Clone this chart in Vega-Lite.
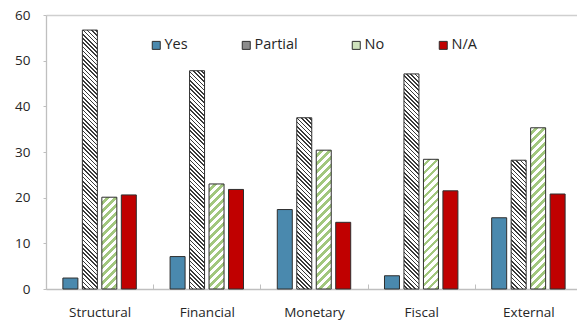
{
  "$schema": "https://vega.github.io/schema/vega-lite/v6.json",
  "width": 536,
  "height": 274,
  "autosize": {"type": "none"},
  "padding": {"left": 46, "top": 15, "right": 0, "bottom": 33},
  "background": "white",
  "config": {
    "view": {"stroke": null},
    "font": "Open Sans"
  },
  "params": [
    {"name": "pStops", "value": [
      {"offset":0,"color":"#fff"},{"offset":0.009,"color":"#fff"},{"offset":0.009,"color":"#3a3a3a"},{"offset":0.015,"color":"#3a3a3a"},
      {"offset":0.015,"color":"#fff"},{"offset":0.024,"color":"#fff"},{"offset":0.024,"color":"#3a3a3a"},{"offset":0.03,"color":"#3a3a3a"},
      {"offset":0.03,"color":"#fff"},{"offset":0.039,"color":"#fff"},{"offset":0.039,"color":"#3a3a3a"},{"offset":0.045,"color":"#3a3a3a"},
      {"offset":0.045,"color":"#fff"},{"offset":0.054,"color":"#fff"},{"offset":0.054,"color":"#3a3a3a"},{"offset":0.06,"color":"#3a3a3a"},
      {"offset":0.06,"color":"#fff"},{"offset":0.069,"color":"#fff"},{"offset":0.069,"color":"#3a3a3a"},{"offset":0.075,"color":"#3a3a3a"},
      {"offset":0.075,"color":"#fff"},{"offset":0.084,"color":"#fff"},{"offset":0.084,"color":"#3a3a3a"},{"offset":0.09,"color":"#3a3a3a"},
      {"offset":0.09,"color":"#fff"},{"offset":0.099,"color":"#fff"},{"offset":0.099,"color":"#3a3a3a"},{"offset":0.105,"color":"#3a3a3a"},
      {"offset":0.105,"color":"#fff"},{"offset":0.114,"color":"#fff"},{"offset":0.114,"color":"#3a3a3a"},{"offset":0.12,"color":"#3a3a3a"},
      {"offset":0.12,"color":"#fff"},{"offset":0.129,"color":"#fff"},{"offset":0.129,"color":"#3a3a3a"},{"offset":0.135,"color":"#3a3a3a"},
      {"offset":0.135,"color":"#fff"},{"offset":0.144,"color":"#fff"},{"offset":0.144,"color":"#3a3a3a"},{"offset":0.15,"color":"#3a3a3a"},
      {"offset":0.15,"color":"#fff"},{"offset":0.159,"color":"#fff"},{"offset":0.159,"color":"#3a3a3a"},{"offset":0.165,"color":"#3a3a3a"},
      {"offset":0.165,"color":"#fff"},{"offset":0.174,"color":"#fff"},{"offset":0.174,"color":"#3a3a3a"},{"offset":0.18,"color":"#3a3a3a"},
      {"offset":0.18,"color":"#fff"},{"offset":0.189,"color":"#fff"},{"offset":0.189,"color":"#3a3a3a"},{"offset":0.195,"color":"#3a3a3a"},
      {"offset":0.195,"color":"#fff"},{"offset":0.204,"color":"#fff"},{"offset":0.204,"color":"#3a3a3a"},{"offset":0.21,"color":"#3a3a3a"},
      {"offset":0.21,"color":"#fff"},{"offset":0.219,"color":"#fff"},{"offset":0.219,"color":"#3a3a3a"},{"offset":0.225,"color":"#3a3a3a"},
      {"offset":0.225,"color":"#fff"},{"offset":0.234,"color":"#fff"},{"offset":0.234,"color":"#3a3a3a"},{"offset":0.24,"color":"#3a3a3a"},
      {"offset":0.24,"color":"#fff"},{"offset":0.249,"color":"#fff"},{"offset":0.249,"color":"#3a3a3a"},{"offset":0.255,"color":"#3a3a3a"},
      {"offset":0.255,"color":"#fff"},{"offset":0.264,"color":"#fff"},{"offset":0.264,"color":"#3a3a3a"},{"offset":0.27,"color":"#3a3a3a"},
      {"offset":0.27,"color":"#fff"},{"offset":0.279,"color":"#fff"},{"offset":0.279,"color":"#3a3a3a"},{"offset":0.285,"color":"#3a3a3a"},
      {"offset":0.285,"color":"#fff"},{"offset":0.294,"color":"#fff"},{"offset":0.294,"color":"#3a3a3a"},{"offset":0.3,"color":"#3a3a3a"},
      {"offset":0.3,"color":"#fff"},{"offset":0.309,"color":"#fff"},{"offset":0.309,"color":"#3a3a3a"},{"offset":0.315,"color":"#3a3a3a"},
      {"offset":0.315,"color":"#fff"},{"offset":0.324,"color":"#fff"},{"offset":0.324,"color":"#3a3a3a"},{"offset":0.33,"color":"#3a3a3a"},
      {"offset":0.33,"color":"#fff"},{"offset":0.339,"color":"#fff"},{"offset":0.339,"color":"#3a3a3a"},{"offset":0.345,"color":"#3a3a3a"},
      {"offset":0.345,"color":"#fff"},{"offset":0.354,"color":"#fff"},{"offset":0.354,"color":"#3a3a3a"},{"offset":0.36,"color":"#3a3a3a"},
      {"offset":0.36,"color":"#fff"},{"offset":0.369,"color":"#fff"},{"offset":0.369,"color":"#3a3a3a"},{"offset":0.375,"color":"#3a3a3a"},
      {"offset":0.375,"color":"#fff"},{"offset":0.384,"color":"#fff"},{"offset":0.384,"color":"#3a3a3a"},{"offset":0.39,"color":"#3a3a3a"},
      {"offset":0.39,"color":"#fff"},{"offset":0.399,"color":"#fff"},{"offset":0.399,"color":"#3a3a3a"},{"offset":0.405,"color":"#3a3a3a"},
      {"offset":0.405,"color":"#fff"},{"offset":0.414,"color":"#fff"},{"offset":0.414,"color":"#3a3a3a"},{"offset":0.42,"color":"#3a3a3a"},
      {"offset":0.42,"color":"#fff"},{"offset":0.429,"color":"#fff"},{"offset":0.429,"color":"#3a3a3a"},{"offset":0.435,"color":"#3a3a3a"},
      {"offset":0.435,"color":"#fff"},{"offset":0.444,"color":"#fff"},{"offset":0.444,"color":"#3a3a3a"},{"offset":0.45,"color":"#3a3a3a"},
      {"offset":0.45,"color":"#fff"},{"offset":0.459,"color":"#fff"},{"offset":0.459,"color":"#3a3a3a"},{"offset":0.465,"color":"#3a3a3a"},
      {"offset":0.465,"color":"#fff"},{"offset":0.474,"color":"#fff"},{"offset":0.474,"color":"#3a3a3a"},{"offset":0.48,"color":"#3a3a3a"},
      {"offset":0.48,"color":"#fff"},{"offset":0.489,"color":"#fff"},{"offset":0.489,"color":"#3a3a3a"},{"offset":0.495,"color":"#3a3a3a"},
      {"offset":0.495,"color":"#fff"},{"offset":0.504,"color":"#fff"},{"offset":0.504,"color":"#3a3a3a"},{"offset":0.51,"color":"#3a3a3a"},
      {"offset":0.51,"color":"#fff"},{"offset":0.519,"color":"#fff"},{"offset":0.519,"color":"#3a3a3a"},{"offset":0.525,"color":"#3a3a3a"},
      {"offset":0.525,"color":"#fff"},{"offset":0.534,"color":"#fff"},{"offset":0.534,"color":"#3a3a3a"},{"offset":0.54,"color":"#3a3a3a"},
      {"offset":0.54,"color":"#fff"},{"offset":0.549,"color":"#fff"},{"offset":0.549,"color":"#3a3a3a"},{"offset":0.555,"color":"#3a3a3a"},
      {"offset":0.555,"color":"#fff"},{"offset":0.564,"color":"#fff"},{"offset":0.564,"color":"#3a3a3a"},{"offset":0.57,"color":"#3a3a3a"},
      {"offset":0.57,"color":"#fff"},{"offset":0.579,"color":"#fff"},{"offset":0.579,"color":"#3a3a3a"},{"offset":0.585,"color":"#3a3a3a"},
      {"offset":0.585,"color":"#fff"},{"offset":0.594,"color":"#fff"},{"offset":0.594,"color":"#3a3a3a"},{"offset":0.6,"color":"#3a3a3a"},
      {"offset":0.6,"color":"#fff"},{"offset":0.609,"color":"#fff"},{"offset":0.609,"color":"#3a3a3a"},{"offset":0.615,"color":"#3a3a3a"},
      {"offset":0.615,"color":"#fff"},{"offset":0.624,"color":"#fff"},{"offset":0.624,"color":"#3a3a3a"},{"offset":0.63,"color":"#3a3a3a"},
      {"offset":0.63,"color":"#fff"},{"offset":0.639,"color":"#fff"},{"offset":0.639,"color":"#3a3a3a"},{"offset":0.645,"color":"#3a3a3a"},
      {"offset":0.645,"color":"#fff"},{"offset":0.654,"color":"#fff"},{"offset":0.654,"color":"#3a3a3a"},{"offset":0.66,"color":"#3a3a3a"},
      {"offset":0.66,"color":"#fff"},{"offset":0.669,"color":"#fff"},{"offset":0.669,"color":"#3a3a3a"},{"offset":0.675,"color":"#3a3a3a"},
      {"offset":0.675,"color":"#fff"},{"offset":0.684,"color":"#fff"},{"offset":0.684,"color":"#3a3a3a"},{"offset":0.69,"color":"#3a3a3a"},
      {"offset":0.69,"color":"#fff"},{"offset":0.699,"color":"#fff"},{"offset":0.699,"color":"#3a3a3a"},{"offset":0.705,"color":"#3a3a3a"},
      {"offset":0.705,"color":"#fff"},{"offset":0.714,"color":"#fff"},{"offset":0.714,"color":"#3a3a3a"},{"offset":0.72,"color":"#3a3a3a"},
      {"offset":0.72,"color":"#fff"},{"offset":0.729,"color":"#fff"},{"offset":0.729,"color":"#3a3a3a"},{"offset":0.735,"color":"#3a3a3a"},
      {"offset":0.735,"color":"#fff"},{"offset":0.744,"color":"#fff"},{"offset":0.744,"color":"#3a3a3a"},{"offset":0.75,"color":"#3a3a3a"},
      {"offset":0.75,"color":"#fff"},{"offset":0.759,"color":"#fff"},{"offset":0.759,"color":"#3a3a3a"},{"offset":0.765,"color":"#3a3a3a"},
      {"offset":0.765,"color":"#fff"},{"offset":0.774,"color":"#fff"},{"offset":0.774,"color":"#3a3a3a"},{"offset":0.78,"color":"#3a3a3a"},
      {"offset":0.78,"color":"#fff"},{"offset":0.789,"color":"#fff"},{"offset":0.789,"color":"#3a3a3a"},{"offset":0.795,"color":"#3a3a3a"},
      {"offset":0.795,"color":"#fff"},{"offset":0.804,"color":"#fff"},{"offset":0.804,"color":"#3a3a3a"},{"offset":0.81,"color":"#3a3a3a"},
      {"offset":0.81,"color":"#fff"},{"offset":0.819,"color":"#fff"},{"offset":0.819,"color":"#3a3a3a"},{"offset":0.825,"color":"#3a3a3a"},
      {"offset":0.825,"color":"#fff"},{"offset":0.834,"color":"#fff"},{"offset":0.834,"color":"#3a3a3a"},{"offset":0.84,"color":"#3a3a3a"},
      {"offset":0.84,"color":"#fff"},{"offset":0.849,"color":"#fff"},{"offset":0.849,"color":"#3a3a3a"},{"offset":0.855,"color":"#3a3a3a"},
      {"offset":0.855,"color":"#fff"},{"offset":0.864,"color":"#fff"},{"offset":0.864,"color":"#3a3a3a"},{"offset":0.87,"color":"#3a3a3a"},
      {"offset":0.87,"color":"#fff"},{"offset":0.879,"color":"#fff"},{"offset":0.879,"color":"#3a3a3a"},{"offset":0.885,"color":"#3a3a3a"},
      {"offset":0.885,"color":"#fff"},{"offset":0.894,"color":"#fff"},{"offset":0.894,"color":"#3a3a3a"},{"offset":0.9,"color":"#3a3a3a"},
      {"offset":0.9,"color":"#fff"},{"offset":0.909,"color":"#fff"},{"offset":0.909,"color":"#3a3a3a"},{"offset":0.915,"color":"#3a3a3a"},
      {"offset":0.915,"color":"#fff"},{"offset":0.924,"color":"#fff"},{"offset":0.924,"color":"#3a3a3a"},{"offset":0.93,"color":"#3a3a3a"},
      {"offset":0.93,"color":"#fff"},{"offset":0.939,"color":"#fff"},{"offset":0.939,"color":"#3a3a3a"},{"offset":0.945,"color":"#3a3a3a"},
      {"offset":0.945,"color":"#fff"},{"offset":0.954,"color":"#fff"},{"offset":0.954,"color":"#3a3a3a"},{"offset":0.96,"color":"#3a3a3a"},
      {"offset":0.96,"color":"#fff"},{"offset":0.969,"color":"#fff"},{"offset":0.969,"color":"#3a3a3a"},{"offset":0.975,"color":"#3a3a3a"},
      {"offset":0.975,"color":"#fff"},{"offset":0.984,"color":"#fff"},{"offset":0.984,"color":"#3a3a3a"},{"offset":0.99,"color":"#3a3a3a"},
      {"offset":0.99,"color":"#fff"},{"offset":0.999,"color":"#fff"},{"offset":0.999,"color":"#3a3a3a"},{"offset":1,"color":"#3a3a3a"}
    ]},
    {"name": "nStops", "value": [
      {"offset":0,"color":"#fff"},{"offset":0.022,"color":"#fff"},{"offset":0.022,"color":"#a2c77e"},{"offset":0.04,"color":"#a2c77e"},
      {"offset":0.04,"color":"#fff"},{"offset":0.062,"color":"#fff"},{"offset":0.062,"color":"#a2c77e"},{"offset":0.08,"color":"#a2c77e"},
      {"offset":0.08,"color":"#fff"},{"offset":0.102,"color":"#fff"},{"offset":0.102,"color":"#a2c77e"},{"offset":0.12,"color":"#a2c77e"},
      {"offset":0.12,"color":"#fff"},{"offset":0.142,"color":"#fff"},{"offset":0.142,"color":"#a2c77e"},{"offset":0.16,"color":"#a2c77e"},
      {"offset":0.16,"color":"#fff"},{"offset":0.182,"color":"#fff"},{"offset":0.182,"color":"#a2c77e"},{"offset":0.2,"color":"#a2c77e"},
      {"offset":0.2,"color":"#fff"},{"offset":0.222,"color":"#fff"},{"offset":0.222,"color":"#a2c77e"},{"offset":0.24,"color":"#a2c77e"},
      {"offset":0.24,"color":"#fff"},{"offset":0.262,"color":"#fff"},{"offset":0.262,"color":"#a2c77e"},{"offset":0.28,"color":"#a2c77e"},
      {"offset":0.28,"color":"#fff"},{"offset":0.302,"color":"#fff"},{"offset":0.302,"color":"#a2c77e"},{"offset":0.32,"color":"#a2c77e"},
      {"offset":0.32,"color":"#fff"},{"offset":0.342,"color":"#fff"},{"offset":0.342,"color":"#a2c77e"},{"offset":0.36,"color":"#a2c77e"},
      {"offset":0.36,"color":"#fff"},{"offset":0.382,"color":"#fff"},{"offset":0.382,"color":"#a2c77e"},{"offset":0.4,"color":"#a2c77e"},
      {"offset":0.4,"color":"#fff"},{"offset":0.422,"color":"#fff"},{"offset":0.422,"color":"#a2c77e"},{"offset":0.44,"color":"#a2c77e"},
      {"offset":0.44,"color":"#fff"},{"offset":0.462,"color":"#fff"},{"offset":0.462,"color":"#a2c77e"},{"offset":0.48,"color":"#a2c77e"},
      {"offset":0.48,"color":"#fff"},{"offset":0.502,"color":"#fff"},{"offset":0.502,"color":"#a2c77e"},{"offset":0.52,"color":"#a2c77e"},
      {"offset":0.52,"color":"#fff"},{"offset":0.542,"color":"#fff"},{"offset":0.542,"color":"#a2c77e"},{"offset":0.56,"color":"#a2c77e"},
      {"offset":0.56,"color":"#fff"},{"offset":0.582,"color":"#fff"},{"offset":0.582,"color":"#a2c77e"},{"offset":0.6,"color":"#a2c77e"},
      {"offset":0.6,"color":"#fff"},{"offset":0.622,"color":"#fff"},{"offset":0.622,"color":"#a2c77e"},{"offset":0.64,"color":"#a2c77e"},
      {"offset":0.64,"color":"#fff"},{"offset":0.662,"color":"#fff"},{"offset":0.662,"color":"#a2c77e"},{"offset":0.68,"color":"#a2c77e"},
      {"offset":0.68,"color":"#fff"},{"offset":0.702,"color":"#fff"},{"offset":0.702,"color":"#a2c77e"},{"offset":0.72,"color":"#a2c77e"},
      {"offset":0.72,"color":"#fff"},{"offset":0.742,"color":"#fff"},{"offset":0.742,"color":"#a2c77e"},{"offset":0.76,"color":"#a2c77e"},
      {"offset":0.76,"color":"#fff"},{"offset":0.782,"color":"#fff"},{"offset":0.782,"color":"#a2c77e"},{"offset":0.8,"color":"#a2c77e"},
      {"offset":0.8,"color":"#fff"},{"offset":0.822,"color":"#fff"},{"offset":0.822,"color":"#a2c77e"},{"offset":0.84,"color":"#a2c77e"},
      {"offset":0.84,"color":"#fff"},{"offset":0.862,"color":"#fff"},{"offset":0.862,"color":"#a2c77e"},{"offset":0.88,"color":"#a2c77e"},
      {"offset":0.88,"color":"#fff"},{"offset":0.902,"color":"#fff"},{"offset":0.902,"color":"#a2c77e"},{"offset":0.92,"color":"#a2c77e"},
      {"offset":0.92,"color":"#fff"},{"offset":0.942,"color":"#fff"},{"offset":0.942,"color":"#a2c77e"},{"offset":0.96,"color":"#a2c77e"},
      {"offset":0.96,"color":"#fff"},{"offset":0.982,"color":"#fff"},{"offset":0.982,"color":"#a2c77e"},{"offset":1,"color":"#a2c77e"}
    ]}
  ],
  "data": {"values": [
    {"category": "Structural", "status": "Yes", "value": 2.4},
    {"category": "Structural", "status": "Partial", "value": 56.7},
    {"category": "Structural", "status": "No", "value": 20.1},
    {"category": "Structural", "status": "N/A", "value": 20.6},
    {"category": "Financial", "status": "Yes", "value": 7.1},
    {"category": "Financial", "status": "Partial", "value": 47.8},
    {"category": "Financial", "status": "No", "value": 23.0},
    {"category": "Financial", "status": "N/A", "value": 21.8},
    {"category": "Monetary", "status": "Yes", "value": 17.4},
    {"category": "Monetary", "status": "Partial", "value": 37.5},
    {"category": "Monetary", "status": "No", "value": 30.4},
    {"category": "Monetary", "status": "N/A", "value": 14.6},
    {"category": "Fiscal", "status": "Yes", "value": 2.9},
    {"category": "Fiscal", "status": "Partial", "value": 47.1},
    {"category": "Fiscal", "status": "No", "value": 28.4},
    {"category": "Fiscal", "status": "N/A", "value": 21.5},
    {"category": "External", "status": "Yes", "value": 15.6},
    {"category": "External", "status": "Partial", "value": 28.2},
    {"category": "External", "status": "No", "value": 35.3},
    {"category": "External", "status": "N/A", "value": 20.8}
  ]},
  "mark": {"type": "bar", "stroke": "#2e2e2e", "strokeWidth": 1},
  "encoding": {
    "x": {
      "field": "category", "type": "nominal",
      "sort": ["Structural", "Financial", "Monetary", "Fiscal", "External"],
      "scale": {"paddingInner": 0, "paddingOuter": 0},
      "axis": {
        "title": null, "labelAngle": 0, "labelFont": "Open Sans", "labelFontSize": 13.5,
        "labelColor": "#262626", "domainColor": "#bfbfbf", "domainWidth": 1.3,
        "tickColor": "#bfbfbf", "tickBand": "extent", "tickSize": -5, "labelPadding": 21
      }
    },
    "xOffset": {
      "field": "status", "type": "nominal",
      "scale": {"domain": ["Yes", "Partial", "No", "N/A"], "paddingInner": 0.23, "paddingOuter": 0.867}
    },
    "y": {
      "field": "value", "type": "quantitative",
      "scale": {"domain": [0, 60], "nice": false},
      "axis": {
        "title": null, "values": [0, 10, 20, 30, 40, 50, 60],
        "labelFont": "Open Sans", "labelFontSize": 13.5, "labelColor": "#262626",
        "domainColor": "#bfbfbf", "domainWidth": 1.3, "tickColor": "#bfbfbf", "tickSize": 3,
        "labelPadding": 13, "grid": true, "gridWidth": 1.5,
        "gridColor": {"condition": {"test": "datum.value === 60", "value": "#cfcfcf"}, "value": "transparent"}
      }
    },
    "fill": {
      "field": "status", "type": "nominal",
      "scale": {"domain": ["Yes", "Partial", "No", "N/A"], "range": ["#4a89ae", "#8c8c8c", "#cfe2bd", "#c00000"]},
      "legend": {
        "title": null, "orient": "none", "legendX": 103, "legendY": 23, "direction": "horizontal", "columns": 4,
        "columnPadding": 51, "padding": 0, "symbolType": "square", "symbolSize": 64,
        "symbolStrokeColor": "#2e2e2e", "symbolStrokeWidth": 1, "labelOffset": 1,
        "labelFont": "Open Sans", "labelFontSize": 14.5, "labelColor": "#262626"
      },
      "condition": {
        "test": "datum.status === 'Partial' || datum.status === 'No'",
        "value": {"expr": "datum.status === 'Partial' ? {gradient: 'linear', x1: 0, y1: 1, x2: 280 * bandwidth('xOffset') / (pow(bandwidth('xOffset'), 2) + pow(scale('y', 0) - scale('y', datum.value), 2)), y2: 1 - 280 * (scale('y', 0) - scale('y', datum.value)) / (pow(bandwidth('xOffset'), 2) + pow(scale('y', 0) - scale('y', datum.value), 2)), stops: pStops} : {gradient: 'linear', x1: 0, y1: 0, x2: 200 * bandwidth('xOffset') / (pow(bandwidth('xOffset'), 2) + pow(scale('y', 0) - scale('y', datum.value), 2)), y2: 200 * (scale('y', 0) - scale('y', datum.value)) / (pow(bandwidth('xOffset'), 2) + pow(scale('y', 0) - scale('y', datum.value), 2)), stops: nStops}"}
      }
    }
  }
}
